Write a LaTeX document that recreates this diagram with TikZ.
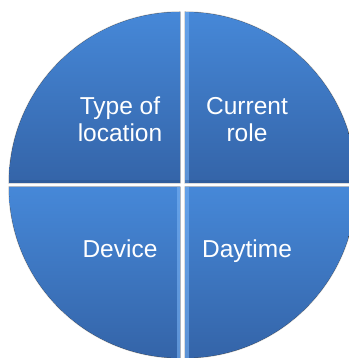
\documentclass[tikz,border=0pt]{standalone}
\usepackage{fontspec}
\setmainfont{Liberation Sans}
\definecolor{qtop}{RGB}{70,136,216}
\definecolor{qbot}{RGB}{52,100,168}
\definecolor{qhl}{RGB}{120,178,244}
\begin{document}
\begin{tikzpicture}[x=1pt,y=1pt,
  quad/.style={top color=qtop, bottom color=qbot, draw=none},
  rim/.style={draw=black!60, line width=1.4pt, opacity=0.35},
  qtext/.style={text=white, font=\fontsize{24.5}{27}\selectfont, inner sep=0pt, align=center}]
\useasboundingbox (0,0) rectangle (348,358);
\fill[white] (0,0) rectangle (348,358);

% the four quarters of the disc
\def\tlpath{(180,175) -- (9,175) arc[start angle=180, end angle=90, radius=171] -- cycle}
\def\trpath{(185,175) -- (185,346) arc[start angle=90, end angle=0, radius=171] -- cycle}
\def\blpath{(180,171) -- (180,0) arc[start angle=270, end angle=180, radius=171] -- cycle}
\def\brpath{(185,171) -- (356,171) arc[start angle=0, end angle=-90, radius=171] -- cycle}

% soft rims
\draw[rim] \tlpath;
\draw[rim] \trpath;
\draw[rim] \blpath;
\draw[rim] \brpath;

\fill[quad] \tlpath;
\fill[quad] \trpath;
\fill[quad] \blpath;
\fill[quad] \brpath;

% bevel highlights along the inner edges
\begin{scope}
  \clip \trpath;
  \fill[qhl, opacity=0.6] (185,170) rectangle (188.5,350);
\end{scope}
\begin{scope}
  \clip \brpath;
  \fill[qhl, opacity=0.6] (185,-5) rectangle (188.5,172);
\end{scope}
\begin{scope}
  \clip \blpath;
  \fill[qhl, opacity=0.6] (176.5,-5) rectangle (180,172);
\end{scope}
\begin{scope}
  \clip \tlpath;
  \fill[qbot!80!black, opacity=0.35] (0,175) rectangle (181,178);
\end{scope}
\begin{scope}
  \clip \trpath;
  \fill[qbot!80!black, opacity=0.35] (184,175) rectangle (360,178);
\end{scope}

% labels
\node[qtext] (tl) at (120,238.5) {Type of\\location};
\node[qtext] (tr) at (247,238) {Current\\role};
\node[qtext, anchor=base] (bl) at (120,100) {Device};
\node[qtext, anchor=base] (br) at (247,100) {Daytime};
\end{tikzpicture}
\end{document}
